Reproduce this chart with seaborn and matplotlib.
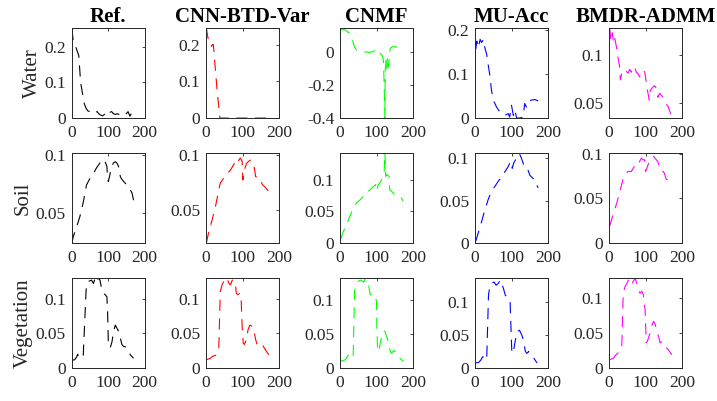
import numpy as np
import matplotlib
matplotlib.use("Agg")
import matplotlib.pyplot as plt
from matplotlib.ticker import FormatStrFormatter
import seaborn as sns

sns.set_theme(style="white")
plt.rcParams["font.family"] = ["Liberation Serif", "DejaVu Serif"]

methods = ["Ref.", "CNN-BTD-Var", "CNMF", "MU-Acc", "BMDR-ADMM"]
materials = ["Water", "Soil", "Vegetation"]
colors = ["#000000", "#FF0000", "#00FF00", "#0000FF", "#FF00FF"]

# ---- Water ----
water_ref_x = [1, 5, 10, 15, 20, 25, 30, 35, 40, 45, 50, 55, 60, 65, 70, 75, 80, 85, 90, 95, 100, 105, 110, 115, 120, 125, 130, 135, 140, 145, 150, 155, 160, 165, 170, 175]
water_ref_y = [0.25, 0.215, 0.205, 0.19, 0.175, 0.10, 0.07, 0.04, 0.027, 0.02, 0.018, 0.014, 0.012, 0.015, 0.018, 0.012, 0.008, 0.006, 0.01, 0.015, 0.022, 0.016, 0.018, 0.012, 0.01, 0.012, 0.01, 0.012, 0.015, 0.01, 0.012, 0.018, 0.005, 0.015, 0.012, 0.015]
water_cnn_x = [1, 5, 10, 15, 18, 20, 22, 25, 30, 35, 38, 50, 75, 100, 125, 150, 175]
water_cnn_y = [0.245, 0.22, 0.2, 0.195, 0.2, 0.2, 0.18, 0.14, 0.08, 0.03, 0.0, 0.0, 0.0, 0.0, 0.0, 0.0, 0.0]
water_cnmf_x = [1, 5, 8, 12, 15, 20, 25, 30, 35, 38, 42, 45, 50, 60, 70, 80, 90, 95, 100, 103, 108, 112, 116, 119, 121, 123, 124, 126, 128, 130, 132, 134, 136, 137, 140, 145, 150, 160, 170, 175]
water_cnmf_y = [0.145, 0.14, 0.135, 0.14, 0.135, 0.125, 0.12, 0.1, 0.07, 0.045, 0.025, 0.015, 0.01, 0.005, 0.002, 0.0, 0.003, 0.01, 0.018, 0.0, -0.002, -0.01, -0.02, -0.05, -0.2, -0.4, -0.1, -0.05, -0.1, -0.03, -0.09, -0.05, -0.03, 0.02, 0.03, 0.035, 0.032, 0.033, 0.03, 0.03]
water_mu_x = [2, 5, 9, 14, 18, 23, 27, 32, 36, 41, 45, 50, 59, 68, 82, 91, 95, 100, 105, 109, 114, 123, 132, 136, 141, 145, 155, 164, 173]
water_mu_y = [0.156, 0.175, 0.16, 0.179, 0.172, 0.179, 0.16, 0.145, 0.122, 0.095, 0.064, 0.041, 0.025, 0.014, 0.006, 0.01, 0.002, 0.029, 0.006, 0.018, 0.0, 0.0, 0.002, 0.033, 0.025, 0.037, 0.041, 0.042, 0.039]
water_bmdr_x = [2, 4, 6, 9, 13, 16, 20, 25, 29, 31, 34, 38, 43, 47, 52, 57, 61, 66, 70, 75, 79, 84, 89, 93, 98, 100, 104, 107, 110, 113, 119, 125, 130, 134, 139, 143, 148, 152, 157, 162, 166, 171, 173]
water_bmdr_y = [0.128, 0.119, 0.114, 0.123, 0.112, 0.117, 0.109, 0.0965, 0.0878, 0.074, 0.079, 0.084, 0.082, 0.083, 0.081, 0.085, 0.082, 0.086, 0.0878, 0.082, 0.081, 0.077, 0.082, 0.084, 0.082, 0.077, 0.065, 0.06, 0.053, 0.063, 0.066, 0.068, 0.065, 0.056, 0.06, 0.058, 0.056, 0.053, 0.049, 0.046, 0.042, 0.037, 0.0343]

# ---- Soil ----
soil_ref_x = [1, 5, 14, 23, 32, 37, 41, 51, 60, 69, 78, 83, 88, 92, 97, 99, 101, 106, 111, 115, 120, 124, 129, 134, 138, 143, 152, 161, 166, 170]
soil_ref_y = [0.0243, 0.03, 0.038, 0.047, 0.059, 0.067, 0.074, 0.08, 0.084, 0.089, 0.093, 0.095, 0.096, 0.094, 0.09, 0.079, 0.077, 0.084, 0.09, 0.093, 0.094, 0.093, 0.09, 0.081, 0.079, 0.077, 0.074, 0.07, 0.067, 0.061]
soil_cnn_x = [1, 7, 17, 26, 35, 39, 49, 58, 67, 76, 81, 85, 90, 94, 99, 101, 105, 111, 117, 122, 127, 131, 136, 140, 145, 150, 154, 163, 171]
soil_cnn_y = [0.0197, 0.029, 0.041, 0.053, 0.068, 0.074, 0.079, 0.083, 0.086, 0.091, 0.094, 0.092, 0.095, 0.097, 0.094, 0.077, 0.086, 0.092, 0.094, 0.095, 0.094, 0.091, 0.08, 0.08, 0.079, 0.077, 0.073, 0.07, 0.067]
soil_cnmf_x = [2, 9, 18, 27, 36, 45, 55, 64, 73, 82, 91, 98, 100, 105, 109, 114, 118, 121, 123, 125, 129, 135, 136, 141, 150, 159, 168, 173]
soil_cnmf_y = [0.006, 0.018, 0.029, 0.042, 0.055, 0.063, 0.068, 0.074, 0.079, 0.084, 0.089, 0.092, 0.082, 0.092, 0.095, 0.1, 0.105, 0.11, 0.142, 0.105, 0.108, 0.105, 0.084, 0.082, 0.076, 0.074, 0.071, 0.066]
soil_mu_x = [2, 9, 18, 27, 36, 45, 55, 64, 73, 82, 91, 95, 100, 102, 106, 111, 118, 123, 127, 132, 135, 141, 145, 150, 159, 164, 168, 173]
soil_mu_y = [0.002, 0.012, 0.025, 0.039, 0.051, 0.061, 0.067, 0.073, 0.078, 0.084, 0.09, 0.094, 0.096, 0.088, 0.094, 0.098, 0.105, 0.104, 0.1, 0.094, 0.088, 0.087, 0.086, 0.08, 0.076, 0.075, 0.069, 0.065]
soil_bmdr_x = [2, 11, 20, 29, 38, 43, 52, 61, 70, 77, 82, 89, 93, 98, 100, 104, 110, 116, 122, 130, 134, 139, 148, 152, 157, 166, 171]
soil_bmdr_y = [0.019, 0.032, 0.043, 0.056, 0.071, 0.076, 0.08, 0.08, 0.086, 0.091, 0.09, 0.095, 0.093, 0.093, 0.08, 0.084, 0.091, 0.095, 0.097, 0.093, 0.091, 0.082, 0.08, 0.078, 0.071, 0.071, 0.065]

# ---- Vegetation ----
veg_ref_x = [1, 9, 14, 17, 20, 28, 32, 40, 46, 55, 60, 65, 69, 74, 78, 83, 88, 92, 97, 99, 101, 106, 111, 115, 120, 124, 129, 134, 138, 143, 147, 152, 157, 161, 170]
veg_ref_y = [0.011, 0.012, 0.016, 0.02, 0.015, 0.015, 0.016, 0.113, 0.125, 0.127, 0.122, 0.13, 0.125, 0.13, 0.127, 0.113, 0.108, 0.106, 0.103, 0.079, 0.036, 0.029, 0.038, 0.052, 0.062, 0.058, 0.053, 0.043, 0.034, 0.031, 0.031, 0.027, 0.024, 0.019, 0.014]
veg_cnn_x = [1, 12, 18, 30, 35, 39, 44, 50, 58, 62, 67, 72, 76, 81, 83, 87, 93, 96, 99, 102, 105, 111, 115, 120, 127, 131, 136, 140, 145, 150, 154, 163, 172]
veg_cnn_y = [0.012, 0.014, 0.017, 0.019, 0.026, 0.11, 0.12, 0.127, 0.13, 0.123, 0.12, 0.127, 0.127, 0.12, 0.108, 0.106, 0.108, 0.103, 0.06, 0.036, 0.034, 0.041, 0.055, 0.062, 0.06, 0.055, 0.041, 0.034, 0.034, 0.036, 0.034, 0.026, 0.019]
veg_cnmf_x = [1, 14, 23, 30, 36, 40, 47, 56, 65, 69, 74, 78, 83, 88, 92, 97, 100, 101, 103, 106, 110, 115, 120, 124, 128, 133, 138, 142, 147, 152, 156, 165, 173]
veg_cnmf_y = [0.01, 0.012, 0.019, 0.014, 0.016, 0.115, 0.127, 0.13, 0.127, 0.132, 0.13, 0.123, 0.108, 0.11, 0.108, 0.106, 0.098, 0.06, 0.026, 0.024, 0.036, 0.048, 0.055, 0.053, 0.046, 0.038, 0.024, 0.022, 0.026, 0.024, 0.019, 0.014, 0.01]
veg_mu_x = [2, 9, 16, 21, 28, 32, 37, 41, 46, 52, 58, 64, 69, 73, 78, 83, 87, 92, 96, 98, 101, 106, 110, 115, 122, 128, 133, 138, 142, 147, 151, 161, 170]
veg_mu_y = [0.008, 0.008, 0.012, 0.017, 0.015, 0.012, 0.11, 0.125, 0.128, 0.13, 0.125, 0.128, 0.133, 0.128, 0.12, 0.11, 0.108, 0.105, 0.103, 0.07, 0.022, 0.027, 0.04, 0.055, 0.057, 0.05, 0.042, 0.025, 0.022, 0.025, 0.02, 0.015, 0.0075]
veg_bmdr_x = [3, 12, 19, 30, 35, 39, 44, 49, 53, 58, 62, 67, 72, 76, 81, 85, 90, 94, 99, 102, 105, 111, 117, 122, 127, 131, 136, 140, 145, 150, 154, 163, 172]
veg_bmdr_y = [0.012, 0.014, 0.019, 0.024, 0.031, 0.107, 0.117, 0.121, 0.126, 0.124, 0.119, 0.125, 0.128, 0.121, 0.112, 0.107, 0.11, 0.105, 0.083, 0.036, 0.038, 0.048, 0.06, 0.067, 0.062, 0.052, 0.045, 0.036, 0.038, 0.033, 0.031, 0.026, 0.019]

series = [
    [(water_ref_x, water_ref_y), (water_cnn_x, water_cnn_y), (water_cnmf_x, water_cnmf_y), (water_mu_x, water_mu_y), (water_bmdr_x, water_bmdr_y)],
    [(soil_ref_x, soil_ref_y), (soil_cnn_x, soil_cnn_y), (soil_cnmf_x, soil_cnmf_y), (soil_mu_x, soil_mu_y), (soil_bmdr_x, soil_bmdr_y)],
    [(veg_ref_x, veg_ref_y), (veg_cnn_x, veg_cnn_y), (veg_cnmf_x, veg_cnmf_y), (veg_mu_x, veg_mu_y), (veg_bmdr_x, veg_bmdr_y)],
]

ylims = [
    [(0, 0.253), (0, 0.245), (-0.4, 0.148), (0, 0.205), (0.0343, 0.128)],
    [(0.0243, 0.1015), (0.0197, 0.1015), (0, 0.142), (0, 0.106), (0, 0.1007)],
    [(0, 0.13), (0, 0.13), (0, 0.133), (0, 0.136), (0, 0.129)],
]
yticks = [
    [[0, 0.1, 0.2], [0, 0.1, 0.2], [-0.4, -0.2, 0], [0, 0.1, 0.2], [0.05, 0.1]],
    [[0.05, 0.1], [0.05, 0.1], [0, 0.05, 0.1], [0, 0.05, 0.1], [0, 0.05, 0.1]],
    [[0, 0.05, 0.1]] * 5,
]

W, H = 717, 401
fig = plt.figure(figsize=(W / 100, H / 100), dpi=100)
col_left = [71.5, 206, 340, 475, 609]
row_top = [28, 153, 278]
aw, ah = 73, 90
dark = "#262626"
lw = 0.8

for r in range(3):
    for c in range(5):
        ax = fig.add_axes([col_left[c] / W, 1 - (row_top[r] + ah) / H, aw / W, ah / H])
        xs, ys = series[r][c]
        sns.lineplot(x=xs, y=ys, ax=ax, color=colors[c], lw=lw,
                     linestyle=(0, (8 / lw, 5.5 / lw)), estimator=None, sort=False, legend=False)
        ax.set_xlim(0, 200)
        ax.set_ylim(*ylims[r][c])
        ax.set_xticks([0, 100, 200])
        ax.set_yticks(yticks[r][c])
        ax.yaxis.set_major_formatter(FormatStrFormatter("%g"))
        ax.tick_params(direction="in", length=2.5, width=0.6, colors=dark,
                       labelsize=12.5, top=True, right=True, pad=4)
        ax.tick_params(axis="x", pad=5)
        for s in ax.spines.values():
            s.set_color(dark)
            s.set_linewidth(0.7)
        ax.set_facecolor("white")
        if r == 0:
            ax.set_title(methods[c], fontsize=15, fontweight="bold", pad=4, color="black")
        if c == 0:
            ax.set_ylabel(materials[r], fontsize=15, labelpad=2, color=dark)

fig.savefig("out.png", dpi=100, facecolor="white")
